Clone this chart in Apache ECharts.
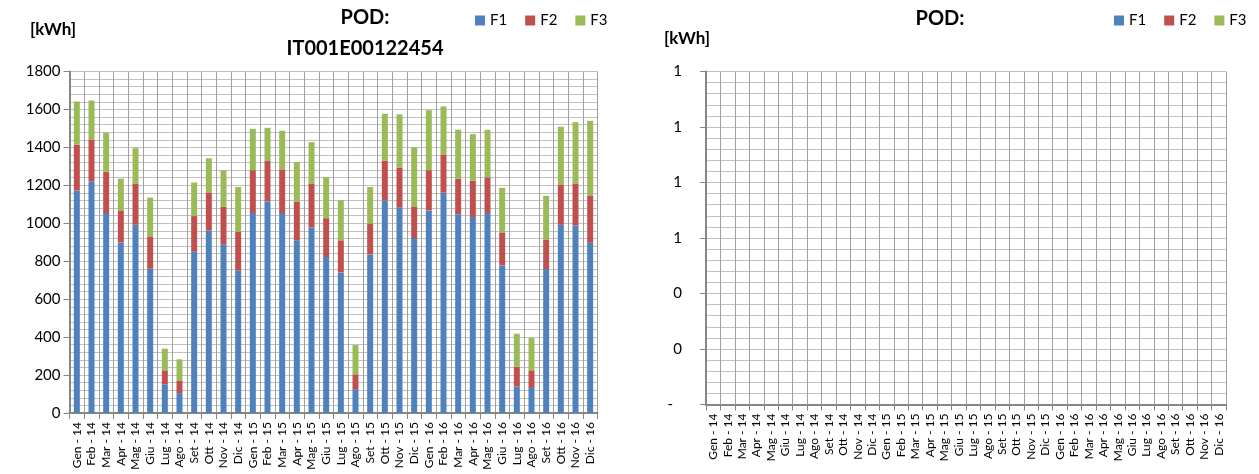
<!DOCTYPE html>
<html>
<head>
<meta charset="utf-8">
<script src="https://cdn.jsdelivr.net/npm/echarts@6/dist/echarts.min.js"></script>
<style>
  html, body { margin: 0; padding: 0; background: #fff; }
  #chart { width: 1259px; height: 474px; }
</style>
</head>
<body>
<div id="chart"></div>
<script>
// Monthly energy consumption per time band (kWh)
const months = [
  'Gen - 14','Feb - 14','Mar - 14','Apr - 14','Mag - 14','Giu - 14','Lug - 14','Ago - 14','Set - 14','Ott - 14','Nov - 14','Dic - 14',
  'Gen - 15','Feb - 15','Mar - 15','Apr - 15','Mag - 15','Giu - 15','Lug - 15','Ago - 15','Set - 15','Ott - 15','Nov - 15','Dic - 15',
  'Gen - 16','Feb - 16','Mar - 16','Apr - 16','Mag - 16','Giu - 16','Lug - 16','Ago - 16','Set - 16','Ott - 16','Nov - 16','Dic - 16'
];

const f1 = [1173,1222,1054,899,992,760,151,105,850,961,889,752,
            1054,1115,1054,910,978,822,741,126,836,1120,1084,922,
            1068,1161,1048,1033,1054,778,140,132,759,992,990,897];
const f2 = [241,220,216,169,218,171,74,64,188,202,198,202,
            226,213,230,205,232,205,169,78,163,209,210,167,
            212,202,188,191,188,174,104,93,156,213,220,250];
const f3 = [228,205,207,167,186,204,114,114,177,180,192,237,
            218,175,204,207,218,216,212,154,192,248,280,312,
            316,253,257,246,251,235,174,170,230,304,323,393];

// Second POD: no readings
const f1b = [];
const f2b = [];
const f3b = [];

const bandNames = ['F1', 'F2', 'F3'];
const bandColors = ['#4F81BD', '#C0504D', '#9BBB59'];
const rightTickLabels = ['-', '0', '0', '1', '1', '1', '1'];

const FONT = 'Lato';
const gridV = '#a0a0a0';
const gridH = '#c0c0c0';
const axisC = '#868686';

function xAxisFor(gridIndex) {
  return {
    type: 'category', gridIndex, data: months, boundaryGap: true,
    axisLine: { show: true, lineStyle: { color: axisC, width: 2 } },
    axisTick: { show: true, interval: 0, length: 6, lineStyle: { color: axisC } },
    splitLine: { show: true, interval: 0, lineStyle: { color: gridV, width: 1 } },
    axisLabel: { interval: 0, rotate: 90, margin: 9, color: '#000', fontFamily: FONT, fontSize: 12 }
  };
}

function yAxisFor(gridIndex, max, interval, margin, formatter, rich) {
  return {
    type: 'value', gridIndex, min: 0, max, interval,
    axisLine: { show: true, lineStyle: { color: axisC, width: 2 } },
    axisTick: { show: true, length: 6, lineStyle: { color: axisC } },
    minorTick: { show: false, splitNumber: 5 },
    splitLine: { show: true, lineStyle: { color: gridH, width: 1 } },
    minorSplitLine: { show: true, lineStyle: { color: gridH, width: 1 } },
    axisLabel: { margin, color: '#000', fontFamily: FONT, fontSize: 15, formatter, rich }
  };
}

function barsFor(values, idx, axisIndex) {
  return {
    name: bandNames[idx], type: 'bar', stack: 'pod' + axisIndex,
    xAxisIndex: axisIndex, yAxisIndex: axisIndex,
    data: values, barWidth: 6,
    itemStyle: { color: bandColors[idx] },
    emphasis: { disabled: true }
  };
}

const chart = echarts.init(document.getElementById('chart'), null, { renderer: 'canvas' });

chart.setOption({
  animation: false,
  backgroundColor: '#fff',
  title: [
    { text: 'POD:\nIT001E00122454', left: 360, top: -3, textAlign: 'center',
      textStyle: { fontFamily: FONT, fontSize: 20, fontWeight: 'bold', color: '#000', lineHeight: 31 } },
    { text: 'POD:', left: 935, top: 4, textAlign: 'center',
      textStyle: { fontFamily: FONT, fontSize: 20, fontWeight: 'bold', color: '#000' } },
    { text: '[kWh]', left: 25, top: 16,
      textStyle: { fontFamily: FONT, fontSize: 17, fontWeight: 'bold', color: '#000' } },
    { text: '[kWh]', left: 659, top: 25,
      textStyle: { fontFamily: FONT, fontSize: 17, fontWeight: 'bold', color: '#000' } }
  ],
  legend: [
    { data: bandNames, left: 470, top: 8, itemWidth: 10, itemHeight: 10, itemGap: 18,
      icon: 'rect', textStyle: { fontFamily: FONT, fontSize: 15, color: '#000' } },
    { data: bandNames, left: 1109, top: 8, itemWidth: 10, itemHeight: 10, itemGap: 18,
      icon: 'rect', textStyle: { fontFamily: FONT, fontSize: 15, color: '#000' } }
  ],
  grid: [
    { left: 69.5, right: 661.5, top: 71.5, bottom: 61, containLabel: false },
    { left: 706, right: 33, top: 71.5, bottom: 69.5, containLabel: false }
  ],
  xAxis: [xAxisFor(0), xAxisFor(1)],
  yAxis: [
    yAxisFor(0, 1800, 200, 9, function (v) { return String(v); }),
    yAxisFor(1, 1.2, 0.2, 24, function (v) {
      const i = Math.round(v / 0.2);
      return i === 0 ? '{d|' + rightTickLabels[0] + '}' : rightTickLabels[i];
    }, { d: { fontFamily: FONT, fontSize: 15, color: '#000', padding: [0, 9, 0, 0] } })
  ],
  series: [
    barsFor(f1, 0, 0), barsFor(f2, 1, 0), barsFor(f3, 2, 0),
    barsFor(f1b, 0, 1), barsFor(f2b, 1, 1), barsFor(f3b, 2, 1)
  ]
});
</script>
</body>
</html>
